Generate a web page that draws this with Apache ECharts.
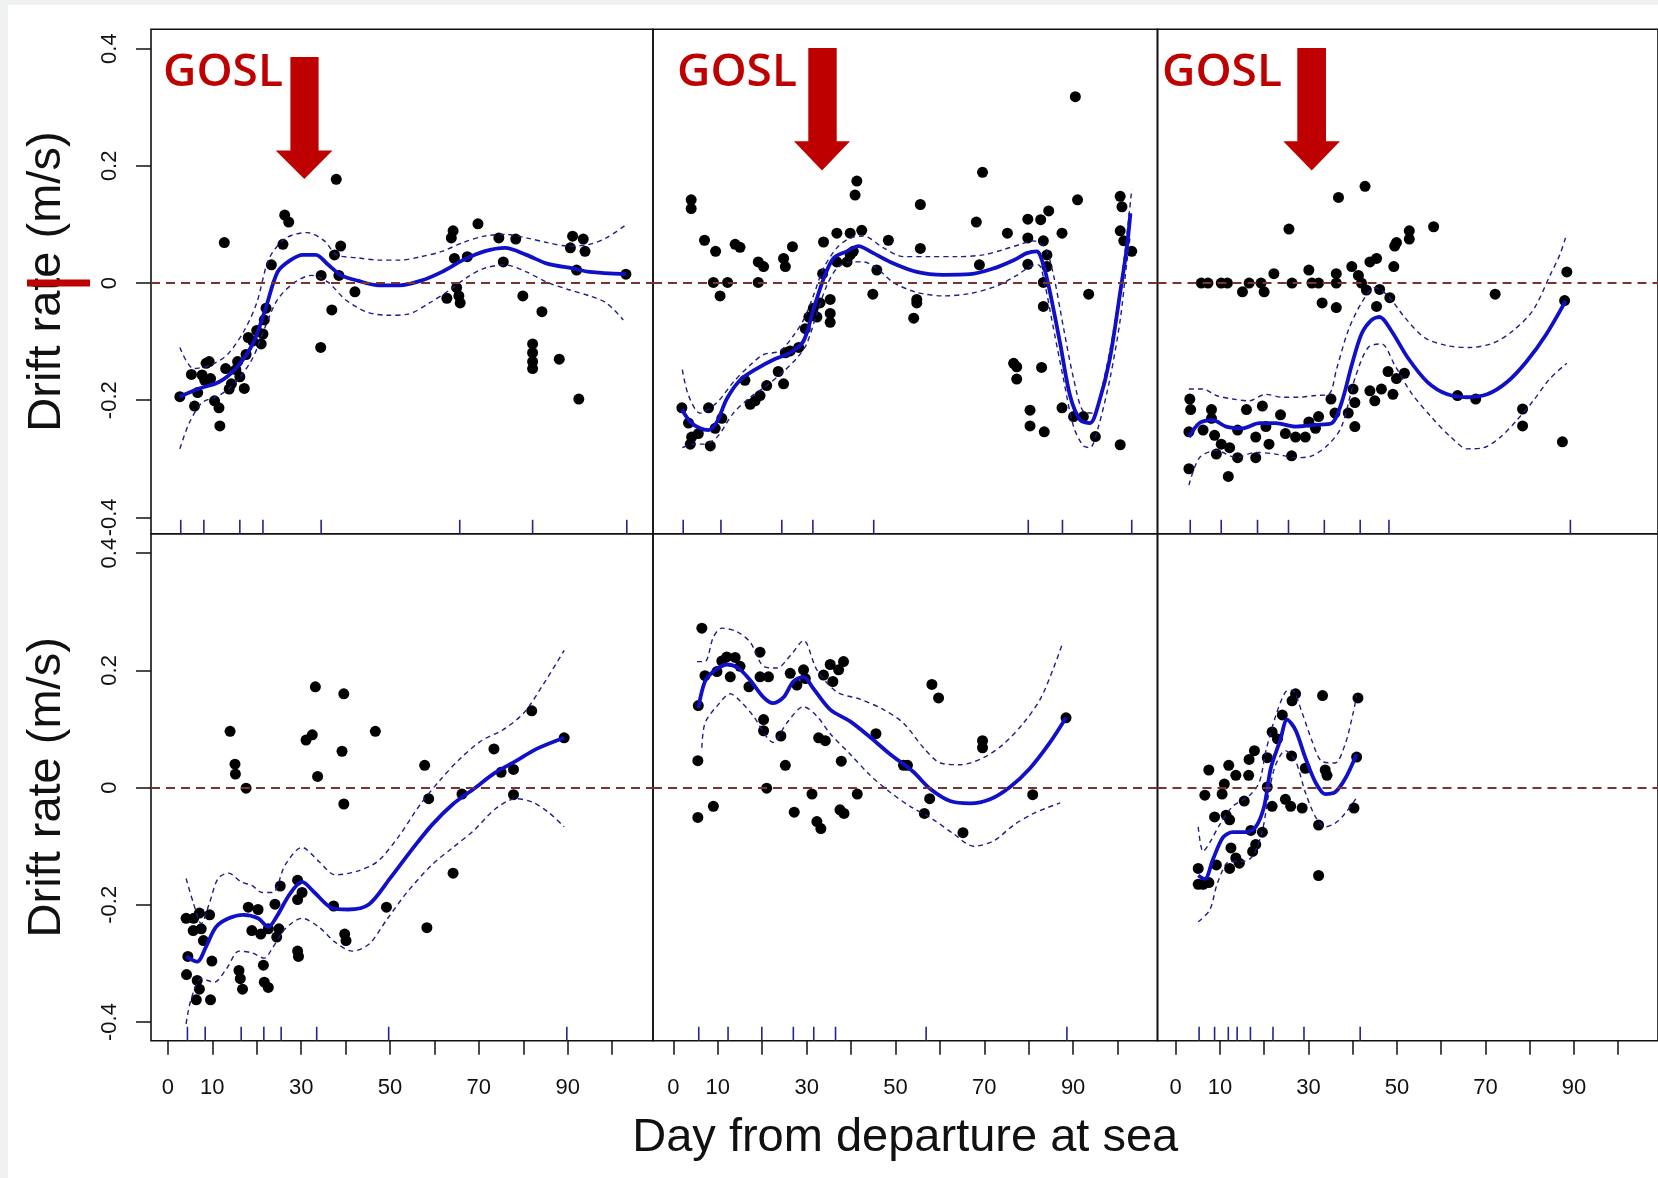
<!DOCTYPE html>
<html>
<head>
<meta charset="utf-8">
<title>Drift rate by day at sea</title>
<script src="https://cdn.jsdelivr.net/npm/echarts@6/dist/echarts.min.js"></script>
<style>
  html, body { margin: 0; padding: 0; background: #eef1f0; }
  #chart { width: 1658px; height: 1178px; }
</style>
</head>
<body>
<div id="chart"></div>
<script>
// axis ticks / labels
const yTicks = [-0.4, -0.2, 0, 0.2, 0.4];
const xTicks = [0, 10, 20, 30, 40, 50, 60, 70, 80, 90, 100];
const xLabels = [0, 10, 30, 50, 70, 90];

// ---- panel 1 (top left) ----
const p1Points = [[2.7,-0.194],[5.3,-0.156],[6.0,-0.210],[6.7,-0.187],[7.7,-0.157],[8.6,-0.137],[9.3,-0.134],[8.3,-0.166],[9.6,-0.163],[10.5,-0.201],[11.5,-0.213],[11.7,-0.244],[12.7,0.069],[13.0,-0.146],[13.8,-0.181],[14.3,-0.172],[15.3,-0.148],[15.7,-0.134],[16.2,-0.160],[17.2,-0.180],[17.6,-0.122],[18.1,-0.093],[19.1,-0.099],[20.0,-0.081],[21.0,-0.104],[21.4,-0.087],[21.7,-0.063],[22.1,-0.043],[23.3,0.031],[25.9,0.066],[26.3,0.116],[27.2,0.104],[34.5,0.013],[34.4,-0.110],[36.9,-0.046],[37.9,0.177],[37.5,0.048],[38.9,0.063],[38.5,0.013],[42.1,-0.015],[62.8,-0.026],[63.8,0.077],[64.2,0.089],[64.5,0.042],[65.0,-0.008],[65.5,-0.022],[65.8,-0.034],[67.4,0.045],[69.8,0.101],[74.5,0.077],[75.5,0.036],[78.3,0.075],[79.9,-0.022],[82.1,-0.104],[82.1,-0.119],[82.1,-0.134],[82.1,-0.146],[84.2,-0.049],[88.1,-0.130],[90.6,0.060],[91.1,0.080],[92.5,-0.198],[93.5,0.075],[93.9,0.054],[92.0,0.022],[103.1,0.015]];
const p1Fit = [[2.7,-0.194],[6.7,-0.181],[11.5,-0.169],[15.3,-0.146],[19.1,-0.104],[21.9,-0.046],[24.7,0.019],[27.6,0.039],[30.4,0.048],[33.3,0.048],[36.1,0.031],[39.0,0.013],[42.7,0.004],[47.5,-0.004],[52.2,-0.004],[57.0,0.004],[61.7,0.019],[66.4,0.039],[71.2,0.054],[75.9,0.060],[80.7,0.048],[85.4,0.033],[91.1,0.025],[94.9,0.019],[103.1,0.015]];
const p1Upper = [[2.7,-0.110],[5.8,-0.146],[9.6,-0.140],[13.4,-0.122],[17.2,-0.081],[20.0,-0.034],[22.8,0.042],[26.6,0.077],[31.4,0.086],[35.2,0.072],[38.0,0.048],[42.7,0.043],[47.5,0.039],[52.2,0.039],[57.0,0.045],[61.7,0.054],[66.4,0.069],[71.2,0.080],[75.9,0.083],[80.7,0.077],[85.4,0.069],[90.1,0.063],[94.9,0.066],[98.7,0.077],[102.9,0.098]];
const p1Lower = [[2.7,-0.283],[4.8,-0.239],[7.7,-0.204],[11.5,-0.192],[15.3,-0.169],[19.1,-0.128],[21.9,-0.075],[24.7,-0.028],[28.5,0.001],[32.3,0.013],[36.1,0.001],[39.9,-0.028],[44.6,-0.049],[49.4,-0.055],[54.1,-0.053],[58.9,-0.034],[63.6,-0.011],[67.4,0.010],[71.2,0.025],[75.9,0.031],[80.7,0.019],[85.4,0.001],[90.1,-0.011],[94.9,-0.022],[98.7,-0.034],[102.5,-0.063]];
const p1Rug = [2.9, 8.1, 16.2, 21.4, 34.5, 65.7, 82.1, 103.3];

// ---- panel 2 (top middle) ----
const p2Points = [[4.0,0.142],[4.0,0.127],[7.0,0.073],[9.5,0.054],[9.0,0.001],[10.5,-0.022],[12.2,0.001],[13.9,0.066],[15.0,0.061],[19.1,0.036],[20.3,0.028],[19.1,0.001],[24.8,0.042],[25.2,0.028],[26.8,0.062],[33.8,0.070],[36.8,0.085],[39.8,0.085],[41.3,0.174],[40.9,0.150],[42.4,0.090],[33.6,0.016],[35.3,-0.028],[35.3,-0.052],[35.3,-0.067],[44.9,-0.019],[45.8,0.022],[48.4,0.073],[55.6,0.134],[55.6,0.059],[54.8,-0.028],[54.8,-0.034],[54.1,-0.060],[68.2,0.104],[69.6,0.189],[68.9,0.031],[75.2,0.085],[79.8,0.109],[79.8,0.077],[79.8,0.032],[82.7,0.108],[84.5,0.123],[83.3,0.072],[84.1,0.048],[84.1,0.028],[83.3,0.001],[83.3,-0.040],[87.5,0.085],[90.5,0.318],[91.0,0.142],[93.5,-0.019],[76.6,-0.137],[77.3,-0.143],[77.3,-0.164],[82.9,-0.144],[80.3,-0.217],[80.3,-0.244],[83.5,-0.254],[87.5,-0.213],[90.1,-0.228],[92.3,-0.228],[95.0,-0.262],[100.6,-0.276],[100.6,0.148],[101.0,0.130],[100.6,0.089],[101.4,0.072],[103.2,0.054],[1.9,-0.213],[3.4,-0.239],[4.1,-0.263],[3.8,-0.275],[5.6,-0.257],[7.9,-0.213],[8.3,-0.278],[9.4,-0.248],[10.9,-0.231],[16.1,-0.166],[17.3,-0.207],[18.4,-0.201],[19.5,-0.192],[21.0,-0.175],[23.6,-0.151],[24.8,-0.172],[25.2,-0.119],[26.3,-0.116],[28.2,-0.110],[29.7,-0.078],[30.5,-0.058],[31.5,-0.043],[32.3,-0.058],[33.0,-0.034],[36.8,0.036],[39.1,0.036],[39.8,0.048],[40.5,0.054]];
const p2Fit = [[1.9,-0.216],[3.8,-0.237],[6.0,-0.248],[7.9,-0.251],[9.8,-0.237],[12.0,-0.198],[15.0,-0.166],[18.8,-0.146],[22.5,-0.131],[26.3,-0.119],[29.3,-0.099],[31.5,-0.046],[33.8,0.007],[36.0,0.042],[39.0,0.054],[41.7,0.063],[44.3,0.054],[48.8,0.036],[54.8,0.019],[60.8,0.014],[66.8,0.015],[72.1,0.025],[76.6,0.039],[79.6,0.051],[81.8,0.054],[83.3,0.031],[84.8,-0.016],[87.1,-0.104],[89.3,-0.192],[91.6,-0.234],[93.8,-0.239],[95.7,-0.207],[98.3,-0.128],[100.6,-0.016],[102.1,0.060],[102.9,0.119]];
const p2Upper = [[2.0,-0.148],[3.4,-0.192],[6.0,-0.222],[9.8,-0.204],[13.5,-0.169],[17.3,-0.140],[20.3,-0.122],[24.0,-0.116],[27.0,-0.090],[29.3,-0.063],[31.5,-0.022],[33.8,0.025],[36.8,0.060],[39.8,0.077],[42.8,0.080],[47.3,0.060],[51.8,0.045],[57.8,0.045],[63.8,0.045],[69.8,0.048],[74.3,0.057],[78.1,0.066],[81.1,0.072],[83.7,0.060],[85.6,0.013],[87.8,-0.075],[90.1,-0.163],[92.3,-0.219],[94.6,-0.222],[96.8,-0.169],[99.1,-0.081],[101.4,0.036],[103.2,0.160]];
const p2Lower = [[2.0,-0.281],[4.5,-0.275],[6.8,-0.275],[9.8,-0.263],[13.5,-0.222],[17.3,-0.195],[21.0,-0.175],[24.8,-0.151],[27.8,-0.128],[30.0,-0.104],[32.3,-0.052],[34.5,-0.005],[36.8,0.025],[39.8,0.036],[42.8,0.036],[45.8,0.025],[49.5,0.001],[54.8,-0.016],[60.8,-0.022],[66.8,-0.018],[72.8,-0.005],[77.3,0.013],[80.3,0.028],[82.2,0.031],[83.7,-0.005],[85.2,-0.063],[87.8,-0.163],[90.1,-0.245],[92.3,-0.278],[93.8,-0.281],[95.7,-0.245],[98.3,-0.163],[100.6,-0.063],[102.1,0.036],[102.9,0.083]];
const p2Rug = [2.2, 10.7, 24.4, 31.4, 45.1, 79.9, 87.6, 103.2];

// ---- panel 3 (top right) ----
const p3Points = [[5.8,0],[7.3,0],[10.3,0],[11.7,0],[15.1,-0.015],[16.6,0],[19.3,0],[20.0,-0.015],[22.2,0.016],[25.6,0.092],[26.3,0],[30.1,0.022],[30.8,0],[32.3,0],[33.1,-0.034],[36.3,0.016],[36.3,0],[36.3,-0.042],[36.8,0.146],[39.8,0.028],[41.3,0.013],[42.0,0],[43.1,-0.012],[42.8,0.165],[43.9,0.036],[45.4,0.042],[46.1,-0.011],[45.4,-0.040],[48.4,-0.025],[49.3,0.028],[49.5,0.063],[49.9,0.069],[52.8,0.089],[52.8,0.075],[58.3,0.096],[72.2,-0.019],[88.4,0.019],[87.9,-0.030],[87.4,-0.271],[78.4,-0.215],[78.4,-0.244],[3.2,-0.198],[3.4,-0.216],[3.0,-0.254],[3.0,-0.317],[6.2,-0.251],[8.1,-0.216],[8.1,-0.231],[8.8,-0.260],[9.2,-0.292],[10.3,-0.275],[11.9,-0.330],[12.2,-0.281],[14.0,-0.298],[14.0,-0.251],[16.0,-0.216],[18.1,-0.298],[18.1,-0.263],[19.6,-0.210],[20.4,-0.245],[21.1,-0.275],[23.7,-0.225],[24.8,-0.257],[26.2,-0.295],[27.1,-0.263],[29.3,-0.263],[30.1,-0.237],[31.6,-0.248],[32.3,-0.228],[35.1,-0.198],[36.0,-0.222],[39.0,-0.222],[40.5,-0.245],[40.1,-0.181],[40.5,-0.204],[43.9,-0.184],[45.0,-0.201],[46.5,-0.181],[48.0,-0.151],[49.1,-0.190],[49.9,-0.163],[51.7,-0.154],[63.7,-0.192],[67.8,-0.198]];
const p3Fit = [[3.0,-0.263],[5.4,-0.239],[8.4,-0.234],[11.4,-0.245],[15.1,-0.248],[18.9,-0.239],[22.6,-0.239],[27.1,-0.245],[31.6,-0.242],[35.3,-0.239],[37.5,-0.204],[39.8,-0.140],[42.0,-0.087],[44.3,-0.063],[46.1,-0.058],[48.7,-0.081],[52.5,-0.128],[56.9,-0.169],[61.4,-0.190],[65.9,-0.195],[70.4,-0.190],[74.9,-0.169],[79.3,-0.134],[83.8,-0.087],[88.1,-0.031]];
const p3Upper = [[3.0,-0.181],[6.2,-0.181],[9.2,-0.192],[12.9,-0.198],[16.6,-0.201],[20.4,-0.190],[24.1,-0.195],[27.8,-0.195],[31.6,-0.192],[34.6,-0.190],[36.4,-0.146],[39.0,-0.081],[42.0,-0.034],[45.0,-0.008],[48.0,-0.022],[51.7,-0.058],[56.2,-0.093],[61.4,-0.107],[66.6,-0.110],[71.9,-0.102],[76.3,-0.081],[80.8,-0.046],[84.6,0.013],[86.8,0.048],[88.1,0.077]];
const p3Lower = [[3.0,-0.345],[5.4,-0.298],[9.2,-0.286],[13.7,-0.298],[18.1,-0.289],[22.6,-0.292],[27.1,-0.298],[30.8,-0.295],[34.6,-0.275],[37.5,-0.245],[40.5,-0.163],[43.5,-0.110],[46.5,-0.104],[49.5,-0.140],[53.2,-0.187],[57.7,-0.228],[62.2,-0.263],[65.9,-0.283],[69.6,-0.281],[73.4,-0.263],[77.1,-0.234],[80.8,-0.201],[84.6,-0.163],[88.4,-0.137]];
const p3Rug = [3.3, 10.3, 18.5, 25.5, 33.6, 41.7, 48.2, 89.2];

// ---- panel 4 (bottom left) ----
const p4Points = [[4.1,-0.223],[4.2,-0.319],[4.5,-0.288],[5.7,-0.244],[5.8,-0.223],[6.4,-0.362],[6.6,-0.329],[7.1,-0.344],[7.1,-0.214],[7.5,-0.241],[8.0,-0.261],[9.4,-0.217],[9.6,-0.362],[9.9,-0.296],[14.0,0.096],[15.1,0.040],[15.2,0.023],[17.6,-0.001],[16.0,-0.312],[16.3,-0.326],[16.8,-0.344],[18.1,-0.204],[18.9,-0.244],[20.3,-0.208],[20.9,-0.250],[21.5,-0.303],[21.7,-0.332],[22.6,-0.341],[22.6,-0.241],[24.1,-0.199],[24.5,-0.255],[25.3,-0.168],[25.0,-0.241],[29.2,-0.158],[29.2,-0.191],[29.2,-0.279],[29.4,-0.288],[30.2,-0.179],[31.1,0.081],[32.5,0.090],[33.2,0.172],[33.7,0.019],[37.3,-0.202],[39.2,0.062],[39.6,0.160],[39.6,-0.028],[39.8,-0.250],[40.1,-0.261],[46.7,0.096],[49.2,-0.204],[57.8,0.038],[58.7,-0.019],[58.3,-0.239],[64.2,-0.146],[66.2,-0.011],[73.4,0.066],[75.0,0.026],[77.8,0.031],[77.8,-0.012],[81.9,0.131],[89.2,0.085]];
const p4Fit = [[4.1,-0.288],[6.6,-0.297],[8.5,-0.273],[10.8,-0.238],[13.7,-0.223],[17.0,-0.217],[20.3,-0.223],[22.6,-0.238],[24.5,-0.220],[27.4,-0.182],[30.2,-0.161],[33.0,-0.179],[36.8,-0.205],[40.6,-0.208],[45.3,-0.199],[50.0,-0.155],[54.7,-0.108],[59.4,-0.064],[64.2,-0.028],[68.9,-0.002],[73.6,0.025],[78.3,0.045],[83.0,0.066],[89.2,0.085]];
const p4Upper = [[4.1,-0.155],[5.7,-0.196],[7.5,-0.232],[9.4,-0.196],[11.3,-0.155],[13.7,-0.146],[16.5,-0.161],[18.9,-0.167],[21.2,-0.179],[23.6,-0.179],[26.4,-0.132],[30.2,-0.102],[34.0,-0.126],[37.7,-0.149],[42.5,-0.143],[47.2,-0.126],[51.9,-0.084],[56.6,-0.031],[61.3,0.013],[66.0,0.051],[70.8,0.081],[75.5,0.099],[80.2,0.128],[84.9,0.181],[89.2,0.234]];
const p4Lower = [[4.1,-0.403],[5.2,-0.362],[7.5,-0.326],[10.4,-0.332],[13.2,-0.309],[16.0,-0.279],[18.9,-0.282],[21.7,-0.291],[23.6,-0.273],[26.4,-0.241],[30.2,-0.223],[34.0,-0.238],[37.7,-0.264],[41.5,-0.279],[45.3,-0.267],[49.2,-0.226],[53.8,-0.179],[59.4,-0.132],[64.2,-0.102],[68.9,-0.073],[73.6,-0.037],[78.3,-0.019],[82.1,-0.025],[85.8,-0.043],[89.2,-0.067]];
const p4Rug = [4.4, 8.4, 16.5, 21.6, 25.5, 33.5, 49.7, 89.8];

// ---- panel 5 (bottom middle) ----
const p5Points = [[6.4,0.272],[7.1,0.191],[5.6,0.140],[5.5,0.046],[5.5,-0.051],[9.0,-0.032],[9.8,0.198],[10.9,0.216],[12.0,0.223],[12.8,0.189],[13.9,0.222],[15.0,0.207],[17.0,0.172],[19.5,0.231],[19.5,0.189],[20.3,0.116],[20.3,0.097],[21.0,-0.001],[21.4,0.189],[24.2,0.088],[25.2,0.038],[26.3,0.195],[27.2,-0.042],[27.8,0.175],[29.3,0.201],[29.7,0.186],[31.2,-0.011],[32.3,-0.058],[33.2,-0.070],[32.7,0.085],[34.2,0.080],[33.8,0.192],[35.3,0.210],[35.9,0.181],[37.2,0.201],[38.3,0.215],[37.8,0.045],[37.5,-0.038],[38.4,-0.044],[41.4,-0.011],[45.6,0.092],[51.8,0.038],[52.7,0.038],[58.2,0.176],[59.7,0.153],[57.7,-0.019],[56.5,-0.044],[65.2,-0.077],[69.6,0.080],[69.6,0.068],[80.9,-0.012],[88.4,0.119]];
const p5Fit = [[5.6,0.136],[7.1,0.181],[9.0,0.198],[12.0,0.210],[14.6,0.204],[17.3,0.183],[20.3,0.154],[22.5,0.144],[24.8,0.154],[27.0,0.181],[29.3,0.189],[31.5,0.169],[35.3,0.133],[39.8,0.113],[44.3,0.086],[48.8,0.057],[54.0,0.027],[57.8,-0.002],[62.3,-0.023],[66.8,-0.027],[71.3,-0.020],[75.8,0.001],[80.3,0.033],[84.8,0.077],[88.4,0.119]];
const p5Upper = [[5.3,0.215],[7.1,0.215],[9.0,0.257],[10.9,0.272],[14.3,0.266],[17.3,0.248],[20.3,0.207],[23.3,0.204],[26.3,0.225],[29.3,0.251],[32.3,0.201],[36.8,0.163],[42.0,0.151],[47.3,0.133],[51.8,0.110],[56.3,0.068],[60.1,0.042],[64.6,0.039],[69.8,0.051],[74.3,0.074],[78.8,0.110],[82.6,0.151],[85.6,0.204],[87.7,0.248]];
const p5Lower = [[6.4,0.068],[7.1,0.110],[9.8,0.139],[12.8,0.160],[15.0,0.148],[18.0,0.122],[22.5,0.077],[25.5,0.110],[29.3,0.138],[32.3,0.122],[35.3,0.092],[39.8,0.057],[44.3,0.021],[48.8,-0.008],[53.3,-0.032],[58.6,-0.055],[63.1,-0.079],[67.6,-0.100],[72.1,-0.091],[76.6,-0.064],[81.1,-0.044],[87.1,-0.026]];
const p5Rug = [5.7, 12.3, 19.9, 27.0, 31.6, 36.5, 56.9, 88.6];

// ---- panel 6 (bottom right) ----
const p6Points = [[5.1,-0.138],[5.1,-0.165],[6.2,-0.165],[7.5,-0.162],[6.6,-0.013],[7.5,0.030],[8.8,-0.050],[9.2,-0.132],[10.5,-0.011],[11.0,0.006],[11.4,-0.047],[12.0,0.038],[12.2,-0.055],[12.2,-0.138],[12.5,-0.103],[13.6,0.021],[13.6,-0.120],[14.4,-0.129],[15.5,-0.023],[16.5,0.021],[16.6,0.048],[17.0,-0.073],[17.4,-0.109],[17.8,0.063],[18.1,-0.097],[19.6,-0.076],[20.7,0.051],[20.7,0.001],[21.8,-0.032],[21.8,0.095],[23.0,0.083],[24.1,0.124],[24.8,-0.020],[26.0,-0.032],[26.3,0.148],[27.1,0.160],[26.2,0.054],[28.6,-0.035],[29.3,0.033],[32.3,-0.064],[32.3,-0.150],[33.2,0.157],[33.8,0.030],[34.2,0.021],[40.3,-0.035],[40.9,0.052],[41.2,0.153]];
const p6Fit = [[5.1,-0.150],[6.6,-0.156],[8.4,-0.123],[10.7,-0.085],[12.9,-0.076],[15.9,-0.076],[18.1,-0.067],[20.0,-0.032],[21.5,0.033],[23.6,0.080],[25.2,0.116],[27.1,0.098],[29.3,0.051],[31.6,0.009],[33.8,-0.011],[36.0,-0.008],[38.3,0.015],[40.9,0.057]];
const p6Upper = [[5.1,-0.067],[6.2,-0.109],[7.7,-0.094],[9.9,-0.064],[12.9,-0.032],[16.6,-0.014],[18.9,0.009],[20.4,0.063],[22.6,0.122],[24.8,0.163],[26.3,0.166],[28.6,0.127],[30.8,0.080],[33.0,0.045],[36.0,0.042],[38.3,0.074],[40.1,0.127],[40.9,0.157]];
const p6Lower = [[5.1,-0.229],[7.7,-0.209],[9.5,-0.162],[12.2,-0.126],[15.1,-0.126],[17.4,-0.117],[19.6,-0.073],[21.1,-0.008],[22.6,0.039],[24.8,0.063],[27.1,0.045],[29.3,-0.008],[31.6,-0.050],[33.8,-0.067],[36.0,-0.061],[38.3,-0.044],[41.2,-0.014]];
const p6Rug = [5.3, 8.8, 11.9, 13.9, 16.9, 22.0, 29.0, 41.7];

const panels = [
  { pts: p1Points, fit: p1Fit, up: p1Upper, lo: p1Lower, rug: p1Rug },
  { pts: p2Points, fit: p2Fit, up: p2Upper, lo: p2Lower, rug: p2Rug },
  { pts: p3Points, fit: p3Fit, up: p3Upper, lo: p3Lower, rug: p3Rug },
  { pts: p4Points, fit: p4Fit, up: p4Upper, lo: p4Lower, rug: p4Rug },
  { pts: p5Points, fit: p5Fit, up: p5Upper, lo: p5Lower, rug: p5Rug },
  { pts: p6Points, fit: p6Fit, up: p6Upper, lo: p6Lower, rug: p6Rug }
];

// layout (pixels) and axis extents
const colLeft = [151, 653, 1157.5];
const colWidth = [502, 504.5, 502];
const rowTop = [29.3, 533.8];
const rowHeight = [504.5, 507];
const xMin = [-3.8, -4.6, -4.1];
const xMax = [109.2, 109.0, 109.0];
const yMin = [-0.428, -0.432];
const yMax = [0.433, 0.433];

const tickFont = "'Liberation Sans Narrow', 'Liberation Sans', Arial, sans-serif";
const titleFont = "'Liberation Sans', Arial, sans-serif";

const chart = echarts.init(document.getElementById('chart'));

const grids = [], xAxes = [], yAxes = [], series = [];
panels.forEach((p, i) => {
  const row = i < 3 ? 0 : 1;
  const col = i % 3;
  grids.push({
    left: colLeft[col], top: rowTop[row], width: colWidth[col], height: rowHeight[row],
    show: true, borderColor: '#111', borderWidth: 1.6, backgroundColor: 'transparent'
  });
  xAxes.push({
    type: 'value', gridIndex: i, min: xMin[col], max: xMax[col], position: 'bottom',
    axisLine: { show: false, onZero: false }, splitLine: { show: false },
    axisTick: row === 1 ? { show: true, customValues: xTicks, length: 14, lineStyle: { color: '#111', width: 1.5 } } : { show: false },
    axisLabel: row === 1 ? { show: true, customValues: xLabels, margin: 36, fontSize: 22, color: '#111', fontFamily: tickFont } : { show: false },
    name: i === 4 ? 'Day from departure at sea' : '',
    nameLocation: 'middle', nameGap: 74,
    nameTextStyle: { fontSize: 47, color: '#111', fontFamily: titleFont }
  });
  yAxes.push({
    type: 'value', gridIndex: i, min: yMin[row], max: yMax[row],
    axisLine: { show: false, onZero: false }, splitLine: { show: false },
    axisTick: col === 0 ? { show: true, customValues: yTicks, length: 15, lineStyle: { color: '#111', width: 1.5 } } : { show: false },
    axisLabel: col === 0 ? { show: true, customValues: yTicks, rotate: 90, margin: 30, fontSize: 22, color: '#111', fontFamily: tickFont } : { show: false },
    name: col === 0 ? 'Drift rate (m/s)' : '',
    nameLocation: 'middle', nameRotate: 90, nameGap: 80,
    nameTextStyle: { fontSize: 47, color: '#111', fontFamily: titleFont }
  });

  series.push({
    type: 'scatter', xAxisIndex: i, yAxisIndex: i, data: p.pts,
    symbol: 'circle', symbolSize: 11, itemStyle: { color: '#000', opacity: 1 }, z: 2, silent: true,
    markLine: {
      silent: true, symbol: ['none', 'none'], label: { show: false },
      lineStyle: { color: '#7b3232', width: 2, type: [9, 6] },
      data: [{ yAxis: 0 }]
    }
  });
  [p.up, p.lo].forEach(band => {
    series.push({
      type: 'line', xAxisIndex: i, yAxisIndex: i, data: band, smooth: 0.3,
      showSymbol: false, z: 3, silent: true,
      lineStyle: { color: '#1d1d8c', width: 1.4, type: [5, 4] }
    });
  });
  series.push({
    type: 'line', xAxisIndex: i, yAxisIndex: i, data: p.fit, smooth: 0.3,
    showSymbol: false, z: 4, silent: true,
    lineStyle: { color: '#1010c8', width: 3.8 }
  });
  // rug along the bottom of the panel
  series.push({
    type: 'custom', xAxisIndex: i, yAxisIndex: i, z: 4, silent: true,
    data: p.rug.map(d => [d]),
    renderItem: (params, api) => {
      const pt = api.coord([api.value(0), yMin[row]]);
      return {
        type: 'line',
        shape: { x1: pt[0], y1: pt[1], x2: pt[0], y2: pt[1] - 14 },
        style: { stroke: '#24248f', lineWidth: 1.6 }
      };
    }
  });
});

// GOSL annotations
const red = '#bf0000';
function arrow(shaftL, shaftR, top, headTop, headL, headR, tipX, tipY) {
  return {
    type: 'polygon', z: 10, silent: true,
    shape: { points: [[shaftL, top], [shaftR, top], [shaftR, headTop], [headR, headTop], [tipX, tipY], [headL, headTop], [shaftL, headTop]] },
    style: { fill: red }
  };
}
function gosl(x) {
  return {
    type: 'text', z: 10, silent: true, x: x, y: 73,
    style: { text: 'GOSL', fill: red, font: "600 46px 'Open Sans', 'Noto Sans', sans-serif", verticalAlign: 'middle' }
  };
}

chart.setOption({
  animation: false,
  backgroundColor: '#eef1f0',
  grid: grids,
  xAxis: xAxes,
  yAxis: yAxes,
  series: series,
  graphic: [
    { type: 'rect', z: -10, silent: true, shape: { x: 8, y: 5, width: 1660, height: 1180 }, style: { fill: '#fff' } },
    gosl(163), gosl(677), gosl(1162),
    arrow(290.4, 318.6, 57, 150.5, 275.7, 332.5, 304.3, 179),
    arrow(808.3, 836.7, 48, 141.2, 794, 850, 822, 170.5),
    arrow(1297.3, 1326, 48, 141.2, 1283.3, 1340, 1311.7, 170.5),
    { type: 'rect', z: 10, silent: true, shape: { x: 27, y: 279.5, width: 63, height: 7 }, style: { fill: red } }
  ]
});
</script>
</body>
</html>
